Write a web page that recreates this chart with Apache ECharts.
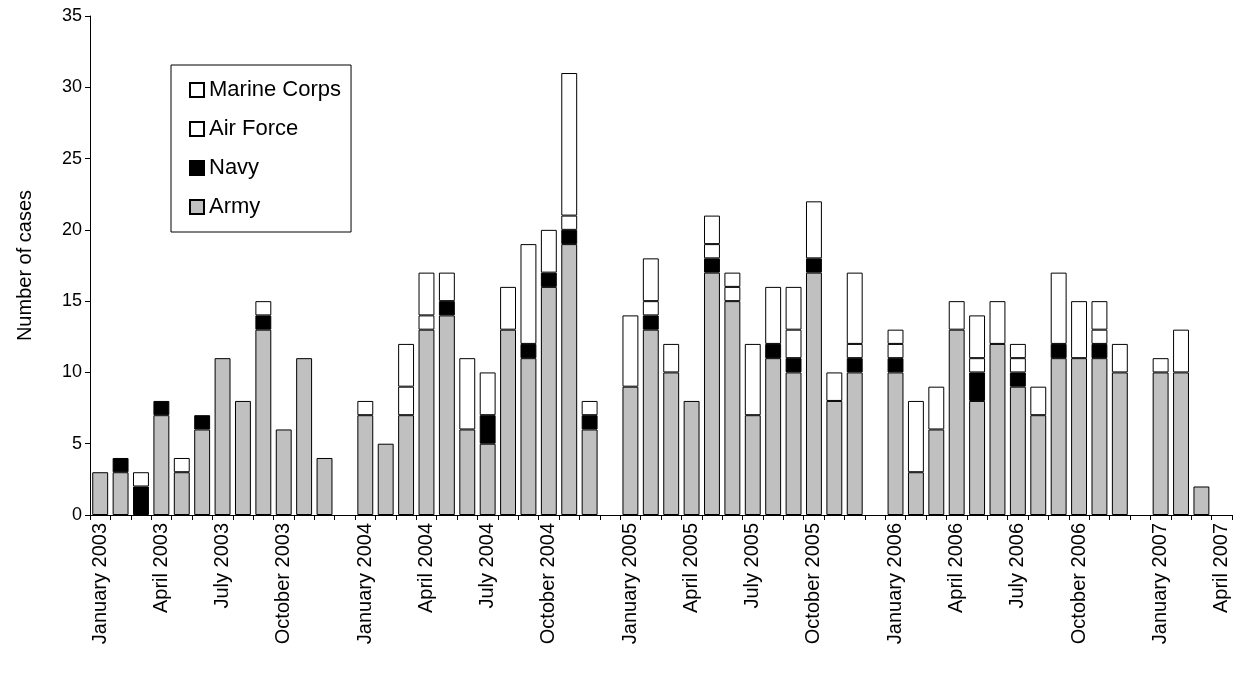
<!DOCTYPE html>
<html>
<head>
<meta charset="utf-8">
<script src="https://cdn.jsdelivr.net/npm/echarts@6/dist/echarts.min.js"></script>
<style>html,body{margin:0;padding:0;background:#fff}#main{width:1246px;height:681px}</style>
</head>
<body>
<div id="main"></div>
<script>
// months per year, with a blank slot ('') between years
var categories = [
  'January 2003','February 2003','March 2003','April 2003','May 2003','June 2003','July 2003','August 2003','September 2003','October 2003','November 2003','December 2003','',
  'January 2004','February 2004','March 2004','April 2004','May 2004','June 2004','July 2004','August 2004','September 2004','October 2004','November 2004','December 2004','',
  'January 2005','February 2005','March 2005','April 2005','May 2005','June 2005','July 2005','August 2005','September 2005','October 2005','November 2005','December 2005','',
  'January 2006','February 2006','March 2006','April 2006','May 2006','June 2006','July 2006','August 2006','September 2006','October 2006','November 2006','December 2006','',
  'January 2007','February 2007','March 2007','April 2007'
];
var army = [3,3,0,7,3,6,11,8,13,6,11,4,null,
  7,5,7,13,14,6,5,13,11,16,19,6,null,
  9,13,10,8,17,15,7,11,10,17,8,10,null,
  10,3,6,13,8,12,9,7,11,11,11,10,null,
  10,10,2,null];
var navy = [0,1,2,1,0,1,0,0,1,0,0,0,null,
  0,0,0,0,1,0,2,0,1,1,1,1,null,
  0,1,0,0,1,0,0,1,1,1,0,1,null,
  1,0,0,0,2,0,1,0,1,0,1,0,null,
  0,0,0,null];
var airForce = [0,0,0,0,0,0,0,0,0,0,0,0,null,
  0,0,2,1,0,0,0,0,0,0,1,0,null,
  0,1,0,0,1,1,0,0,2,0,0,1,null,
  1,0,0,0,1,0,1,0,0,0,1,0,null,
  0,0,0,null];
var marineCorps = [0,0,1,0,1,0,0,0,1,0,0,0,null,
  1,0,3,3,2,5,3,3,7,3,10,1,null,
  5,3,2,0,2,1,5,4,3,4,2,5,null,
  1,5,3,2,3,3,1,2,5,4,2,2,null,
  1,3,0,null];
var shownMonths = ['January','April','July','October'];

function seg(name, data, color) {
  return {
    name: name, type: 'bar', stack: 'all',
    // zero-height pieces would still draw a border line, so leave them out
    data: data.map(function (v) { return v ? v : null; }),
    barCategoryGap: '22%',
    itemStyle: {color: color, borderColor: '#000', borderWidth: 1}
  };
}

var chart = echarts.init(document.getElementById('main'));
chart.setOption({
  animation: false,
  textStyle: {fontFamily: 'Liberation Sans, Arial, sans-serif'},
  grid: {left: 90, right: 14, top: 16, bottom: 166},
  legend: {
    orient: 'vertical', left: 171, top: 65,
    data: ['Marine Corps','Air Force','Navy','Army'],
    icon: 'rect',
    itemWidth: 14, itemHeight: 14, itemGap: 17,
    padding: [14, 10, 14, 18],
    borderColor: '#000', borderWidth: 1,
    textStyle: {fontSize: 22, color: '#000'}
  },
  xAxis: {
    type: 'category', data: categories,
    axisLine: {lineStyle: {color: '#000'}},
    axisTick: {show: true, interval: 0, lineStyle: {color: '#000'}},
    axisLabel: {
      interval: 0, rotate: 90, fontSize: 20, color: '#000',
      formatter: function (v) {
        return shownMonths.indexOf(v.split(' ')[0]) >= 0 ? v : '';
      }
    }
  },
  yAxis: {
    type: 'value', min: 0, max: 35, interval: 5,
    name: 'Number of cases', nameLocation: 'middle', nameGap: 55,
    nameTextStyle: {fontSize: 20, color: '#000'},
    axisLine: {show: true, lineStyle: {color: '#000'}},
    axisTick: {show: true, inside: false, lineStyle: {color: '#000'}},
    axisLabel: {fontSize: 18, color: '#000'},
    splitLine: {show: false}
  },
  series: [
    seg('Army', army, '#c0c0c0'),
    seg('Navy', navy, '#000'),
    seg('Air Force', airForce, '#fff'),
    seg('Marine Corps', marineCorps, '#fff')
  ]
});
</script>
</body>
</html>
